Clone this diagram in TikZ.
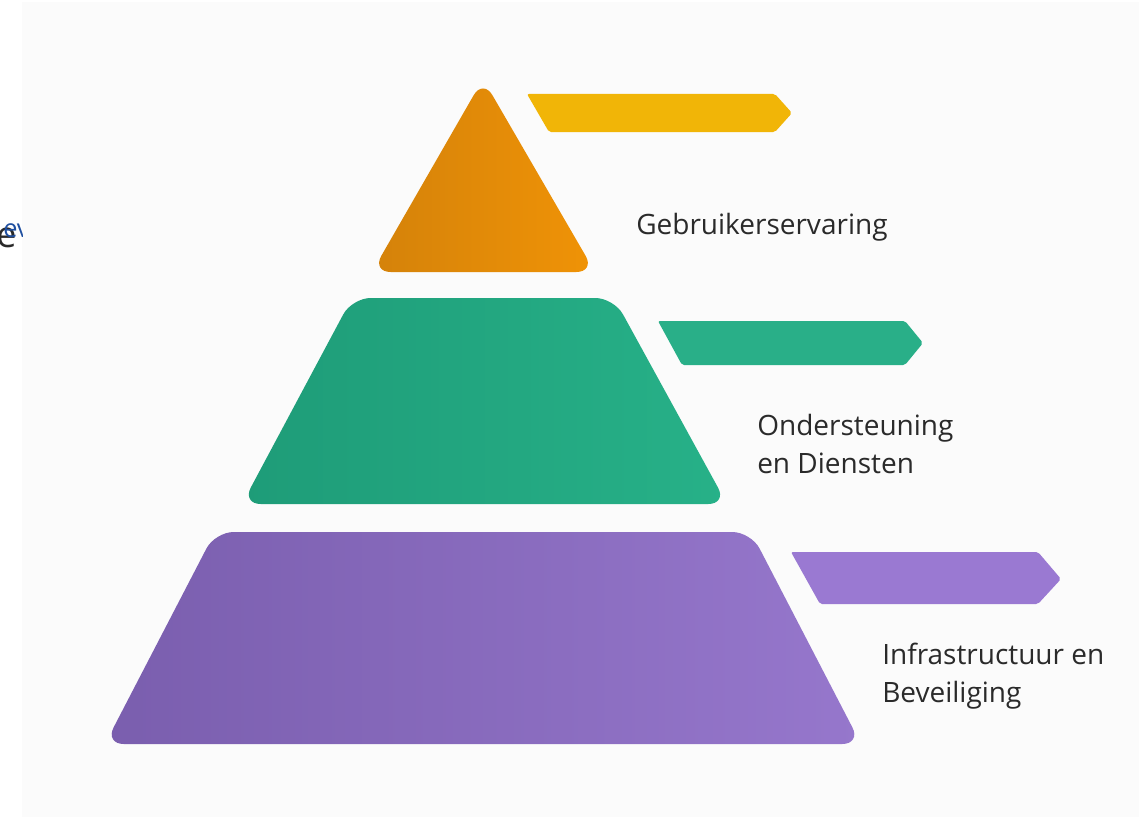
\documentclass[tikz,border=0pt]{standalone}
\usepackage{fontspec}
\newfontfamily\labelfont{Open Sans}
\definecolor{orgL}{HTML}{D4820A}
\definecolor{orgR}{HTML}{F09306}
\definecolor{yel}{HTML}{F1B507}
\definecolor{grnL}{HTML}{1E9C78}
\definecolor{grnR}{HTML}{27B188}
\definecolor{grnbar}{HTML}{29AF88}
\definecolor{purL}{HTML}{7A5EAE}
\definecolor{purR}{HTML}{9677CC}
\definecolor{purbar}{HTML}{9A79D2}
\definecolor{panel}{HTML}{FBFBFB}
\definecolor{txt}{HTML}{2A2A2A}
\definecolor{blu}{HTML}{1F4FA0}
\tikzset{
  lbl/.style={font=\labelfont\fontsize{21}{28.5}\selectfont, text=txt, anchor=west, align=left, inner sep=0pt},
  tier/.style={rounded corners=14pt},
  tab/.style={rounded corners=1.5pt}
}
\begin{document}
\begin{tikzpicture}[x=0.75pt,y=-0.75pt]
\useasboundingbox (0,0) rectangle (1139,817);
\fill[white] (0,0) rectangle (1139,817);
\fill[panel] (22,2) rectangle (1139,817);
% clipped stray letters at left edge
\begin{scope}
\clip (0,200) rectangle (22,260);
\node[font=\labelfont\fontsize{27}{27}\selectfont, text=txt, anchor=base west, inner sep=0pt] (stray) at (-4,247) {e};
\node[font=\labelfont\fontsize{19}{19}\selectfont, text=blu, anchor=base west, inner sep=0pt] (strayb) at (3,237) {ev};
\end{scope}
% top tier
\path[tier, left color=orgL, right color=orgR] (483,79) -- (595,272) -- (372,272) -- cycle;
\path[tab, fill=yel] (527,94) -- (775,94) -- (792,113) -- (775,132) -- (549,132) -- cycle;
\node[lbl] (t1) at (636,227) {Gebruikerservaring};
% middle tier
\path[tier, left color=grnL, right color=grnR] (352,298) -- (614,298) -- (727,504) -- (242,504) -- cycle;
\path[tab, fill=grnbar] (658,321) -- (905,321) -- (923,343) -- (905,365) -- (682,365) -- cycle;
\node[lbl] (t2) at (757,444) {Ondersteuning\\en Diensten};
% bottom tier
\path[tier, left color=purL, right color=purR] (215,532) -- (751,532) -- (861,744) -- (105,744) -- cycle;
\path[tab, fill=purbar] (791,552) -- (1038,552) -- (1061,579) -- (1038,604) -- (820,604) -- cycle;
\node[lbl] (t3) at (882,676) {Infrastructuur en\\Beveiliging};
\end{tikzpicture}
\end{document}
